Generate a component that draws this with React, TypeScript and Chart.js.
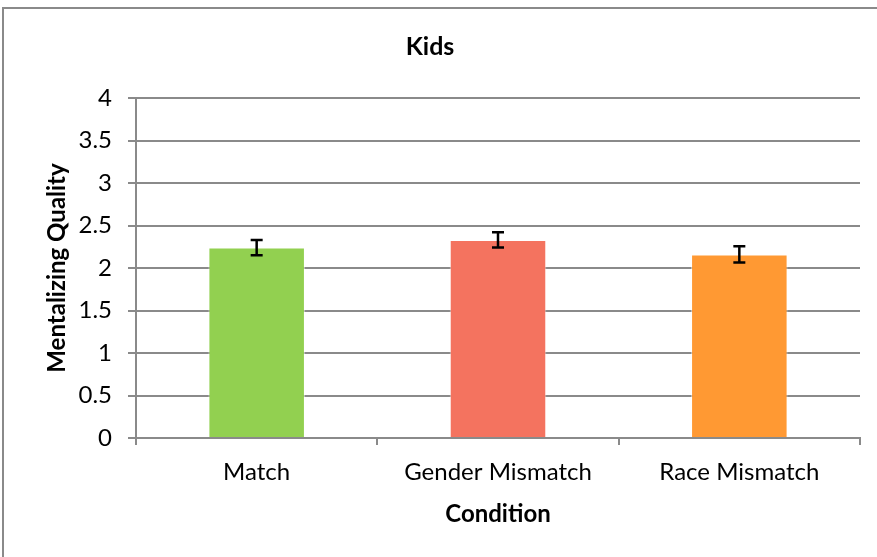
import React, { useEffect, useRef } from "react";
import { Chart, registerables } from "chart.js";

Chart.register(...registerables);

const categories = ["Match", "Gender Mismatch", "Race Mismatch"];
const means = [2.24, 2.33, 2.16];
const errors = [0.09, 0.09, 0.095];
const barColors = ["#92D050", "#F4735F", "#FF9933"];
const yTicks = [0, 0.5, 1, 1.5, 2, 2.5, 3, 3.5, 4];
const yTitle = "Mentalizing Quality";

const FONT = "Lato, 'Open Sans', sans-serif";

const errorBarPlugin = {
  id: "errorBars",
  afterDatasetsDraw(chart: any) {
    const ctx = chart.ctx;
    const xs = chart.scales.x;
    const ys = chart.scales.y;
    ctx.save();
    ctx.strokeStyle = "#000";
    ctx.lineWidth = 2.5;
    means.forEach((m, i) => {
      const x = xs.getPixelForValue(i);
      const top = ys.getPixelForValue(m + errors[i]);
      const bot = ys.getPixelForValue(m - errors[i]);
      ctx.beginPath();
      ctx.moveTo(x, top);
      ctx.lineTo(x, bot);
      ctx.moveTo(x - 6, top);
      ctx.lineTo(x + 6, top);
      ctx.moveTo(x - 6, bot);
      ctx.lineTo(x + 6, bot);
      ctx.stroke();
    });
    ctx.restore();
  },
};

const yTitlePlugin = {
  id: "yTitle",
  afterDraw(chart: any) {
    const ctx = chart.ctx;
    const area = chart.chartArea;
    ctx.save();
    ctx.translate(57, (area.top + area.bottom) / 2);
    ctx.rotate(-Math.PI / 2);
    ctx.fillStyle = "#000";
    ctx.font = `bold 24px ${FONT}`;
    ctx.textAlign = "center";
    ctx.textBaseline = "middle";
    ctx.fillText(yTitle, 0, 0);
    ctx.restore();
  },
};

const borderPlugin = {
  id: "outerBorder",
  beforeDraw(chart: any) {
    const ctx = chart.ctx;
    ctx.save();
    ctx.fillStyle = "#fff";
    ctx.fillRect(0, 0, chart.width, chart.height);
    ctx.strokeStyle = "#8a8a8a";
    ctx.lineWidth = 2;
    ctx.strokeRect(3, 8, 1000, 1000);
    ctx.restore();
  },
};

export default function App() {
  const ref = useRef<HTMLCanvasElement>(null);
  useEffect(() => {
    document.body.style.margin = "0";
    const chart = new Chart(ref.current!, {
      type: "bar",
      data: {
        labels: categories,
        datasets: [
          {
            data: means,
            backgroundColor: barColors,
            borderColor: "rgba(255,255,255,0.5)",
            borderWidth: 1,
            barPercentage: 0.4,
            categoryPercentage: 1,
          },
        ],
      },
      options: {
        animation: false,
        responsive: false,
        layout: { padding: { left: 0, right: 17, top: 0, bottom: 0 } },
        plugins: {
          legend: { display: false },
          tooltip: { enabled: false },
          title: {
            display: true,
            text: "Kids",
            color: "#000",
            font: { family: FONT, size: 25, weight: "bold", lineHeight: 1.2 },
            padding: { top: 32, bottom: 36 },
          },
        },
        scales: {
          x: {
            grid: {
              offset: true,
              drawOnChartArea: false,
              drawTicks: true,
              tickLength: 7,
              color: "#8a8a8a",
              lineWidth: 2,
            },
            border: { color: "#8a8a8a", width: 2 },
            ticks: {
              color: "#000",
              font: { family: FONT, size: 24 },
              padding: 13,
              maxRotation: 0,
            },
            title: {
              display: true,
              text: "Condition",
              color: "#000",
              font: { family: FONT, size: 24, weight: "bold", lineHeight: 1.2 },
              padding: { top: 0, bottom: 28.6 },
            },
            afterFit(scale: any) {
              scale.height = 119;
            },
          },
          y: {
            min: 0,
            max: 4,
            afterBuildTicks(scale: any) {
              scale.ticks = yTicks.map((v) => ({ value: v }));
            },
            grid: {
              color: "#8a8a8a",
              lineWidth: 2,
              tickLength: 8,
            },
            border: { color: "#8a8a8a", width: 2 },
            ticks: {
              color: "#000",
              font: { family: FONT, size: 24 },
              padding: 16,
              callback: (v: any) => String(v),
            },
            title: { display: false },
            afterFit(scale: any) {
              scale.width = 136;
            },
          },
        },
      },
      plugins: [borderPlugin, errorBarPlugin, yTitlePlugin],
    });
    return () => chart.destroy();
  }, []);
  return (
    <div style={{ width: 877, height: 557 }}>
      <canvas ref={ref} width={877} height={557} style={{ display: "block" }} />
    </div>
  );
}
